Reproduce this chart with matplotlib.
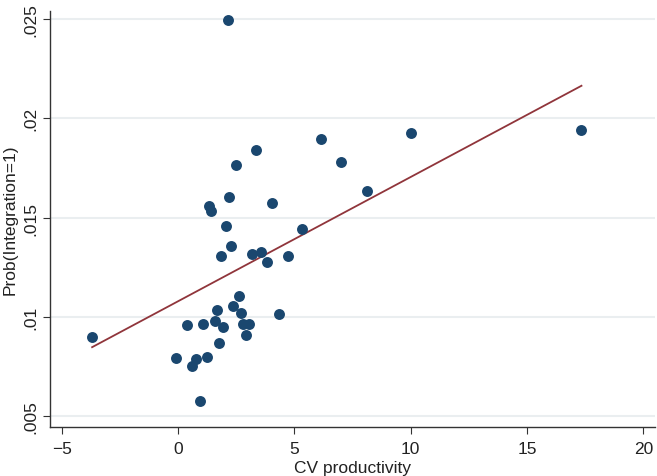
import numpy as np
import matplotlib.pyplot as plt

# CV productivity vs Prob(Integration=1)
cv_prod = [-3.69, 2.15, -0.09, 0.39, 0.62, 0.79, 0.93, 1.08, 1.23, 1.34, 1.44,
           1.66, 1.58, 1.75, 1.83, 1.92, 2.05, 2.19, 2.26, 2.36, 2.49, 2.62,
           2.71, 2.78, 2.91, 3.05, 3.36, 3.18, 3.56, 3.84, 4.05, 4.35, 4.74,
           5.34, 6.15, 7.00, 8.12, 10.01, 17.34]
prob_integ = [0.00897, 0.02497, 0.00790, 0.00959, 0.00753, 0.00785, 0.00576,
              0.00965, 0.00798, 0.01560, 0.01535, 0.01034, 0.00978, 0.00866,
              0.01307, 0.00951, 0.01458, 0.01605, 0.01356, 0.01053, 0.01763,
              0.01104, 0.01018, 0.00965, 0.00908, 0.00965, 0.01838, 0.01316,
              0.01328, 0.01276, 0.01571, 0.01015, 0.01307, 0.01442, 0.01894,
              0.01782, 0.01632, 0.01924, 0.01939]

# fitted line as drawn in the reference
fit_x = [-3.69, 17.34]
fit_intercept = 0.01078
fit_slope = 0.000626

NAVY = '#1a476f'
MAROON = '#90353b'

plt.rcParams['font.family'] = ['Liberation Sans', 'DejaVu Sans']

fig = plt.figure(figsize=(6.57, 4.77), dpi=100)
ax = fig.add_axes([50 / 657, 49 / 477, 605 / 657, 416 / 477])

ax.scatter(cv_prod, prob_integ, s=62, color=NAVY, zorder=3, linewidths=0)
fx = np.array(fit_x)
ax.plot(fx, fit_intercept + fit_slope * fx, color=MAROON, lw=1.3, zorder=2)

ax.set_xlim(-5.5, 20.5)
ax.set_ylim(0.00445, 0.0254)
ax.set_xticks([-5, 0, 5, 10, 15, 20])
yt = [0.005, 0.01, 0.015, 0.02, 0.025]
ax.set_yticks(yt)
ax.set_yticklabels(['.005', '.01', '.015', '.02', '.025'], rotation=90, va='center')
ax.grid(True, axis='y', color='#eaeef0', lw=1.5)
ax.set_axisbelow(True)

for s in ['top', 'right']:
    ax.spines[s].set_visible(False)
for s in ['left', 'bottom']:
    ax.spines[s].set_color('#333333')
    ax.spines[s].set_linewidth(1.0)
ax.tick_params(colors='#333333', labelcolor='#222222', length=5, labelsize=12.5)
ax.tick_params(axis='x', pad=5)

ax.set_xlabel('CV productivity', fontsize=12.5, color='#222222', labelpad=3)
ax.set_ylabel('Prob(Integration=1)', fontsize=12.5, color='#222222', labelpad=4)

fig.savefig('out.png', dpi=100)
